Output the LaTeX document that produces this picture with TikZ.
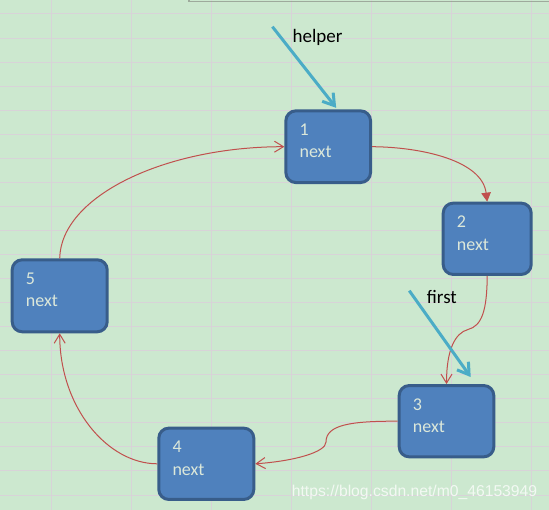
\documentclass[tikz,border=0pt]{standalone}
\usepackage{fontspec}
\setmainfont{Carlito}
\newfontfamily\wmfont{Liberation Sans}
\usetikzlibrary{arrows.meta,calc}
\definecolor{bgc}{HTML}{CCE8CF}
\definecolor{gridc}{HTML}{D8D3D8}
\definecolor{topc}{HTML}{9EAA9C}
\definecolor{boxfill}{HTML}{4F81BD}
\definecolor{boxline}{HTML}{385D8A}
\definecolor{boxtext}{HTML}{DCE8DA}
\definecolor{redc}{HTML}{C0504D}
\definecolor{bluec}{HTML}{4BACC6}
\tikzset{
  listbox/.style={draw=boxline, line width=3pt, fill=boxfill, rounded corners=10pt, inner sep=0pt},
  boxtxt/.style={anchor=base west, inner sep=0pt, text=boxtext, font=\fontsize{18}{20}\selectfont},
  lbl/.style={anchor=base west, inner sep=0pt, text=black, font=\fontsize{19}{21}\selectfont},
  link/.style={draw=redc, line width=1pt},
  openhead/.style={-{Straight Barb[length=9pt,width=11pt]}},
  filledhead/.style={-{Triangle[length=9pt,width=9.5pt]}},
  pointer/.style={draw=bluec, line width=3pt, -{Straight Barb[length=11pt,width=14pt]}},
}
\begin{document}
\begin{tikzpicture}[x=1pt,y=-1pt]
\useasboundingbox (0,0) rectangle (549,510);
\fill[bgc] (0,0) rectangle (549,510);
% grid
\foreach \k in {0,...,20} {\draw[gridc, line width=1pt] (0,{14+24.05*\k}) -- (549,{14+24.05*\k});}
\foreach \k in {0,...,6} {\draw[gridc, line width=1pt] ({51.7+80*\k},0) -- ({51.7+80*\k},510);}
\draw[topc, line width=1.3pt] (189,0) -- (189,1.2) -- (549,1.2);

% boxes
\node[listbox, minimum width=84.7pt, minimum height=71.7pt] (b1) at (328.2,146.7) {};
\node[listbox, minimum width=88pt, minimum height=71.3pt] (b2) at (487.2,238.8) {};
\node[listbox, minimum width=94.6pt, minimum height=71.3pt] (b3) at (446.5,421.2) {};
\node[listbox, minimum width=95pt, minimum height=71.3pt] (b4) at (206.3,463.8) {};
\node[listbox, minimum width=95pt, minimum height=72pt] (b5) at (59.7,295.8) {};

\foreach \b/\n in {b1/1,b2/2,b3/3,b4/4,b5/5} {
  \node[boxtxt] (\b n) at ($(\b.north west)+(15,26)$) {\n};
  \node[boxtxt] (\b x) at ($(\b.north west)+(15,48.5)$) {next};
}

% links
\draw[link, filledhead] (b1.east) .. controls (420,147) and (482,160) .. (b2.north);
\draw[link, openhead] (b2.south) .. controls (487,310) and (482,326) .. (468,329.5) .. controls (455,333) and (446.5,350) .. (b3.north);
\draw[link, openhead] (b3.west) .. controls (350,421) and (326,425) .. (326,442) .. controls (326,452) and (295,461) .. (b4.east);
\draw[link, openhead] (b4.west) .. controls (108,463.8) and (59.7,408) .. (b5.south);
\draw[link, openhead] (b5.north) .. controls (61,196) and (165,146.7) .. (b1.west);

% pointers
\coordinate (hs) at (272.4,26.7);
\coordinate (fs) at (409.3,290.7);
\draw[pointer] (hs) -- ([xshift=8pt,yshift=1.5pt]b1.north);
\draw[pointer] (fs) -- ([xshift=24.2pt,yshift=7pt]b3.north);
\node[lbl] (helper) at (292.4,42.7) {helper};
\node[lbl] (first) at (426.7,303.3) {first};

% watermark
\node[anchor=base west, inner sep=0pt, text=white, opacity=0.75, font=\wmfont\fontsize{15.7}{17}\selectfont] (wm) at (291.7,496) {https://blog.csdn.net/m0\_46153949};
\end{tikzpicture}
\end{document}
